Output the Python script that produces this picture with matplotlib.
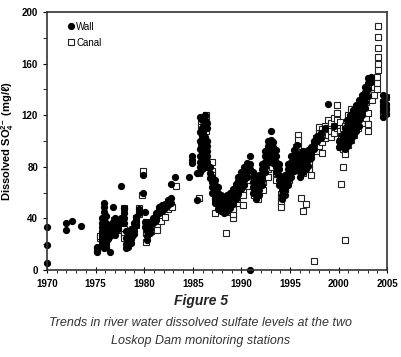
import matplotlib
matplotlib.use("Agg")
from matplotlib import pyplot as plt
from matplotlib.ticker import MultipleLocator

plt.rcParams['font.family'] = ['Liberation Sans', 'DejaVu Sans']
plt.rcParams['mathtext.fontset'] = 'custom'
plt.rcParams['mathtext.rm'] = 'Liberation Sans'
plt.rcParams['mathtext.bf'] = 'Liberation Sans:bold'

# Wall station: (decimal year, SO4 mg/l), grouped by sampling time
wall = [
    (1970.0, [33, 19, 5]), (1972.0, [36, 31]), (1972.6, [38]), (1973.5, [34]),
    (1975.1, [18, 17, 15, 14]),
    (1975.7, [24, 28, 33, 36, 40, 22, 20, 26, 30]),
    (1975.9, [52, 49, 45, 38, 34, 30, 27, 24, 22, 19, 17]),
    (1976.1, [42, 36, 32, 28, 25, 22, 20, 18]),
    (1976.3, [30, 27, 24, 35]), (1976.5, [14, 26, 31]),
    (1976.8, [49, 37, 33, 29]), (1977.0, [40, 36, 33, 30, 27]),
    (1977.3, [38, 35, 32]), (1977.6, [65, 40, 37]), (1977.9, [48, 44, 40, 36]),
    (1978.1, [30, 25, 20, 17]), (1978.3, [28, 22, 18]), (1978.6, [32, 27, 24, 21]),
    (1978.9, [36, 33, 30, 28]), (1979.2, [41, 38, 35]), (1979.5, [47, 44]),
    (1979.9, [74, 60]), (1980.1, [45, 37, 33]), (1980.3, [30, 26, 23]),
    (1980.6, [32, 29, 35, 37]), (1980.9, [40, 36, 38]), (1981.2, [44, 41, 39]),
    (1981.5, [47, 44, 49]), (1981.8, [50, 46]), (1982.1, [51, 48]),
    (1982.4, [54, 50]), (1982.8, [67, 56, 52]), (1983.2, [72]),
    (1984.6, [72]), (1984.9, [88, 85, 83]), (1985.4, [75, 54]),
    (1985.75, [119, 107, 100, 94, 88, 84, 80, 76]),
    (1985.9, [116, 110, 104, 98, 92, 86, 82, 78]),
    (1986.1, [112, 106, 101, 97, 93, 90, 86, 82, 79]),
    (1986.3, [120, 116, 103, 99, 95, 91, 88, 84]),
    (1986.5, [114, 110, 100, 96, 92, 88, 84, 80]),
    (1986.8, [80, 75, 71]), (1987.0, [72, 68, 64, 60]),
    (1987.3, [70, 66, 62, 58, 55, 52]), (1987.6, [64, 60, 57, 54, 50, 47]),
    (1987.9, [58, 55, 52, 49, 46]), (1988.2, [56, 53, 50, 47, 44]),
    (1988.5, [58, 55, 52, 49, 46]), (1988.8, [60, 57, 54, 51, 48]),
    (1989.1, [63, 60, 57, 54, 51]), (1989.4, [67, 64, 61, 58, 55]),
    (1989.7, [72, 69, 66, 62, 59]), (1990.0, [76, 73, 70, 66, 63]),
    (1990.3, [80, 77, 74, 70, 66]), (1990.6, [83, 80, 76, 72]),
    (1990.9, [88, 0, 82, 78]), (1991.2, [76, 72, 68, 64, 60]),
    (1991.5, [70, 66, 62, 58, 55]), (1991.8, [74, 70, 66, 62, 58]),
    (1992.1, [82, 78, 74, 70, 66]), (1992.4, [92, 88, 84, 80, 76]),
    (1992.7, [100, 96, 92, 88, 84]), (1993.0, [108, 101, 97, 93, 89, 85]),
    (1993.3, [99, 95, 91, 87, 83]), (1993.6, [93, 88, 84, 80, 76]),
    (1993.9, [82, 78, 74, 70, 66]), (1994.2, [70, 66, 62, 58, 55]),
    (1994.5, [74, 70, 66, 62, 58]), (1994.8, [82, 78, 74, 70, 66]),
    (1995.1, [88, 84, 80, 76, 72]), (1995.4, [93, 89, 85, 81, 77]),
    (1995.7, [97, 90, 86, 82, 78]), (1996.0, [88, 84, 80, 76, 72]),
    (1996.3, [92, 88, 84, 80, 76]), (1996.6, [90, 86, 82, 78]),
    (1996.9, [93, 89, 85, 81]), (1997.2, [95, 91, 87]),
    (1997.5, [100, 97, 94]), (1997.8, [104, 100]), (1998.2, [106, 102]),
    (1998.6, [110]), (1998.9, [129]), (1999.5, [112]), (2000.0, [100, 95]),
    (2000.4, [105, 100, 96]), (2000.7, [110, 106, 102, 98, 94]),
    (2000.9, [116, 112, 108, 104, 100, 96]),
    (2001.2, [120, 116, 112, 108, 104, 100]),
    (2001.5, [124, 120, 116, 112, 108, 104]),
    (2001.8, [128, 124, 120, 116, 112, 108]),
    (2002.1, [132, 128, 124, 120, 116, 112]),
    (2002.4, [136, 132, 128, 124, 120]),
    (2002.7, [142, 138, 134, 130, 126]),
    (2003.0, [149, 145, 140, 135]), (2003.3, [150, 146]),
    (2004.6, [136, 131, 127, 123, 119]), (2004.9, [134, 129, 125, 121]),
]

# Canal station
canal = [
    (1975.5, [25, 26]), (1976.0, [22, 28]), (1976.9, [39, 34, 30]),
    (1977.3, [31]), (1977.9, [32, 28, 25, 48]), (1978.3, [24, 20]),
    (1978.7, [27]), (1979.2, [35, 40]), (1979.5, [43, 48]), (1979.75, [58]),
    (1979.9, [77]), (1980.2, [37, 29, 22]), (1980.7, [33, 30]),
    (1981.3, [33, 31]), (1981.7, [38]), (1982.1, [41]), (1982.5, [47]),
    (1982.9, [49]), (1983.25, [65]), (1985.6, [56, 75]),
    (1985.8, [115, 111, 97]), (1986.0, [106, 100]), (1986.4, [120, 116, 108]),
    (1987.0, [84, 77, 74]), (1987.3, [44, 60, 55]), (1987.7, [50, 47]),
    (1988.0, [55, 52]), (1988.4, [29]), (1988.8, [45, 48]),
    (1989.1, [40, 43, 47]), (1989.5, [52, 55]), (1990.2, [50, 61, 58]),
    (1990.7, [65, 70]), (1991.3, [58, 62, 67]), (1991.7, [55, 60]),
    (1992.2, [62, 68]), (1992.7, [72, 78]), (1993.2, [80, 84]),
    (1993.6, [75, 70]), (1994.1, [59, 55, 52, 49]), (1994.5, [63, 67]),
    (1994.9, [70, 74]), (1995.3, [78, 82]), (1995.6, [90, 95]),
    (1995.85, [105, 101, 96]), (1996.1, [56, 85, 80]), (1996.3, [46, 75]),
    (1996.7, [51, 88, 84]), (1997.0, [86, 82, 78]), (1997.2, [74, 90]),
    (1997.5, [7, 98, 94]), (1997.7, [102, 97, 92]),
    (1998.0, [106, 101, 96, 111]), (1998.3, [91, 109, 104, 99]),
    (1998.6, [112, 107, 102]), (1998.9, [116, 110, 105]),
    (1999.2, [114, 108, 103]), (1999.5, [118, 112, 106]),
    (1999.8, [128, 122, 116, 110]), (2000.1, [115, 108, 100, 95]),
    (2000.3, [67, 104, 98]), (2000.5, [80, 110, 102, 94]),
    (2000.7, [23, 112, 90]), (2001.0, [120, 106, 97]),
    (2001.3, [125, 113, 101]), (2001.6, [118, 105]), (2002.0, [122, 110]),
    (2002.4, [126, 114]), (2002.8, [130, 118]), (2003.0, [122, 113, 108]),
    (2003.4, [138, 132]), (2003.7, [142, 136]), (2004.0, [150, 145, 140]),
    (2004.1, [189, 181, 172, 165, 160, 155]), (2004.6, [130, 124, 120]),
    (2004.9, [134, 127, 122]),
]

def flatten(groups):
    xs, ys = [], []
    for t, vals in groups:
        for v in vals:
            xs.append(t)
            ys.append(v)
    return xs, ys

wall_x, wall_y = flatten(wall)
canal_x, canal_y = flatten(canal)

fig = plt.figure(figsize=(4.02, 3.57), dpi=100)
ax = fig.add_axes([0.117, 0.244, 0.846, 0.722])

ax.plot(canal_x, canal_y, 's', ms=4, mfc='white', mec='#222222', mew=0.8,
        clip_on=False, label='Canal')
ax.plot(wall_x, wall_y, 'o', ms=4.2, color='black', clip_on=False, label='Wall')

ax.set_xlim(1970, 2005)
ax.set_ylim(0, 200)
ax.xaxis.set_major_locator(MultipleLocator(5))
ax.xaxis.set_minor_locator(MultipleLocator(1))
ax.yaxis.set_major_locator(MultipleLocator(40))
ax.yaxis.set_minor_locator(MultipleLocator(20))
ax.tick_params(axis='x', which='major', direction='inout', length=5, width=0.8,
               labelsize=7, pad=4)
ax.tick_params(axis='x', which='minor', direction='out', length=2.5, width=0.6)
ax.tick_params(axis='y', which='major', direction='out', length=3, width=0.8,
               labelsize=7)
ax.tick_params(axis='y', which='minor', direction='out', length=3, width=0.6)
for lab in ax.get_xticklabels() + ax.get_yticklabels():
    lab.set_fontweight('bold')
for s in ax.spines.values():
    s.set_color('#333333')
    s.set_linewidth(1.2)

ax.set_ylabel(r'Dissolved SO$_\mathbf{4}^\mathbf{2\!-}$ (mg/ℓ)', fontsize=8,
              fontweight='bold', labelpad=4)

h, l = ax.get_legend_handles_labels()
ax.legend(h[::-1], l[::-1], loc='upper left', bbox_to_anchor=(0.04, 0.985),
          frameon=False, fontsize=7, handletextpad=0.0, handlelength=1.0,
          labelspacing=0.6, borderaxespad=0.2)

fig.text(0.5, 0.145, 'Figure 5', ha='center', fontsize=10, fontweight='bold',
         style='italic', color='#222222')
fig.text(0.5, 0.088, 'Trends in river water dissolved sulfate levels at the two',
         ha='center', fontsize=9, style='italic', color='#333333')
fig.text(0.5, 0.037, 'Loskop Dam monitoring stations', ha='center', fontsize=9,
         style='italic', color='#333333')

fig.savefig('out.png', dpi=100)
